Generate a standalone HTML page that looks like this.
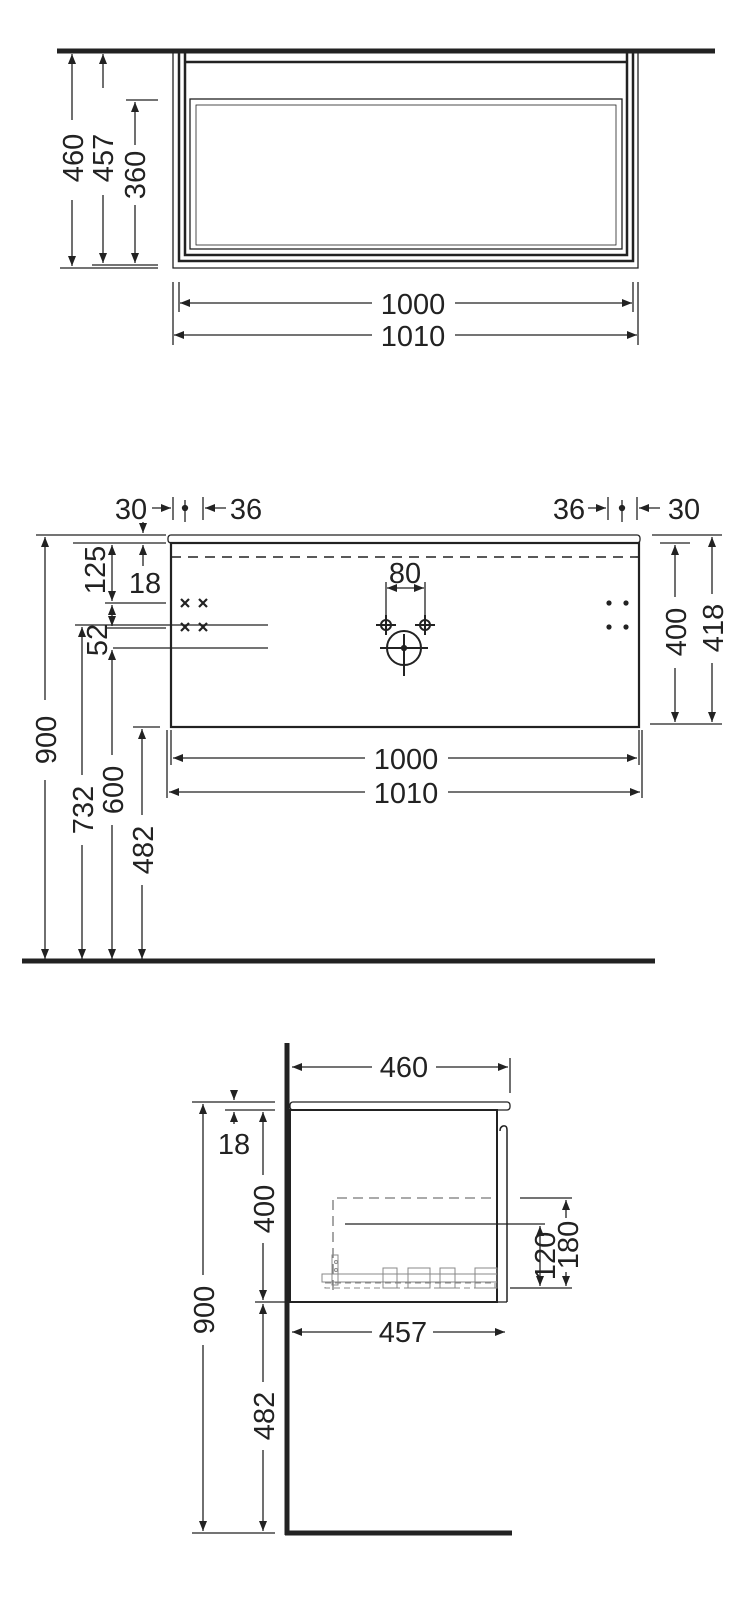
<!DOCTYPE html>
<html><head><meta charset="utf-8"><style>
html,body{margin:0;padding:0;background:#fff;}
svg{display:block;}
text{font-family:"Liberation Sans",sans-serif;font-size:29px;fill:#222;}
</style></head><body>
<svg width="754" height="1600" viewBox="0 0 754 1600" xmlns="http://www.w3.org/2000/svg">
<defs>
<marker id="a" viewBox="0 0 10 10" refX="10" refY="5" markerWidth="10" markerHeight="10" markerUnits="userSpaceOnUse" orient="auto-start-reverse"><path d="M0,1 L10,5 L0,9 z" fill="#222"/></marker>
</defs>
<g stroke="#222" fill="none" stroke-width="1.3">
<!-- TOP VIEW -->
<line x1="57" y1="51" x2="715" y2="51" stroke-width="5"/>
<polyline points="173,52 173,268 638,268 638,52"/>
<polyline points="179,52 179,261 633,261 633,52" stroke-width="2.5"/>
<polyline points="185,52 185,255 627,255 627,52" stroke-width="2.5"/>
<line x1="185" y1="62" x2="627" y2="62" stroke-width="2.5"/>
<rect x="190" y="99" width="432" height="150"/>
<rect x="196" y="105" width="420" height="140" stroke-width="0.8"/>
<line x1="60" y1="268" x2="158" y2="268"/>
<line x1="92" y1="265" x2="158" y2="265"/>
<line x1="126" y1="100" x2="158" y2="100"/>
<line x1="72" y1="54" x2="72" y2="120" marker-start="url(#a)"/><line x1="72" y1="200" x2="72" y2="266" marker-end="url(#a)"/>
<line x1="103" y1="54" x2="103" y2="88" marker-start="url(#a)"/><line x1="103" y1="195" x2="103" y2="263" marker-end="url(#a)"/>
<line x1="135" y1="102" x2="135" y2="145" marker-start="url(#a)"/><line x1="135" y1="205" x2="135" y2="263" marker-end="url(#a)"/>
<line x1="173" y1="282" x2="173" y2="345"/><line x1="179" y1="282" x2="179" y2="312"/>
<line x1="633" y1="282" x2="633" y2="312"/><line x1="638" y1="282" x2="638" y2="345"/>
<line x1="180" y1="303" x2="372" y2="303" marker-start="url(#a)"/><line x1="455" y1="303" x2="632" y2="303" marker-end="url(#a)"/>
<line x1="174" y1="335" x2="372" y2="335" marker-start="url(#a)"/><line x1="455" y1="335" x2="637" y2="335" marker-end="url(#a)"/>

<!-- FRONT VIEW -->
<rect x="168" y="535" width="472" height="8" rx="3"/>
<rect x="171" y="543" width="468" height="184" stroke-width="2.2"/>
<line x1="171" y1="557" x2="639" y2="557" stroke-dasharray="10,7" stroke-width="1.6"/>
<line x1="22" y1="961" x2="655" y2="961" stroke-width="5"/>
<line x1="36" y1="535" x2="166" y2="535"/>
<line x1="73" y1="543" x2="166" y2="543"/>
<line x1="105" y1="603" x2="166" y2="603"/>
<line x1="75" y1="625" x2="268" y2="625"/>
<line x1="105" y1="628" x2="166" y2="628"/>
<line x1="113" y1="648" x2="268" y2="648"/>
<line x1="133" y1="727" x2="160" y2="727"/>
<line x1="45" y1="537" x2="45" y2="700" marker-start="url(#a)"/><line x1="45" y1="780" x2="45" y2="959" marker-end="url(#a)"/>
<line x1="82" y1="627" x2="82" y2="775" marker-start="url(#a)"/><line x1="82" y1="845" x2="82" y2="959" marker-end="url(#a)"/>
<line x1="112" y1="650" x2="112" y2="755" marker-start="url(#a)"/><line x1="112" y1="825" x2="112" y2="959" marker-end="url(#a)"/>
<line x1="142" y1="729" x2="142" y2="815" marker-start="url(#a)"/><line x1="142" y1="885" x2="142" y2="959" marker-end="url(#a)"/>
<line x1="112" y1="545" x2="112" y2="601" marker-start="url(#a)" marker-end="url(#a)"/>
<line x1="112" y1="605" x2="112" y2="626" marker-start="url(#a)" marker-end="url(#a)"/>
<line x1="143" y1="522" x2="143" y2="533" marker-end="url(#a)"/>
<line x1="143" y1="566" x2="143" y2="545" marker-end="url(#a)"/>
<!-- top small dims -->
<line x1="173" y1="497" x2="173" y2="520"/><line x1="185" y1="500" x2="185" y2="522"/><line x1="203" y1="497" x2="203" y2="520"/>
<circle cx="185" cy="508" r="2.5" fill="#222"/>
<line x1="152" y1="508" x2="171" y2="508" marker-end="url(#a)"/>
<line x1="226" y1="508" x2="205" y2="508" marker-end="url(#a)"/>
<line x1="608" y1="497" x2="608" y2="520"/><line x1="622" y1="500" x2="622" y2="522"/><line x1="637" y1="497" x2="637" y2="520"/>
<circle cx="622" cy="508" r="2.5" fill="#222"/>
<line x1="588" y1="508" x2="606" y2="508" marker-end="url(#a)"/>
<line x1="660" y1="508" x2="639" y2="508" marker-end="url(#a)"/>
<!-- right dims -->
<line x1="652" y1="535" x2="722" y2="535"/>
<line x1="660" y1="543" x2="690" y2="543"/>
<line x1="650" y1="724" x2="722" y2="724"/>
<line x1="675" y1="545" x2="675" y2="597" marker-start="url(#a)"/><line x1="675" y1="668" x2="675" y2="722" marker-end="url(#a)"/>
<line x1="712" y1="537" x2="712" y2="594" marker-start="url(#a)"/><line x1="712" y1="663" x2="712" y2="722" marker-end="url(#a)"/>
<!-- 80 -->
<line x1="386" y1="582" x2="386" y2="615"/><line x1="425" y1="582" x2="425" y2="615"/>
<line x1="387" y1="588" x2="424" y2="588" marker-start="url(#a)" marker-end="url(#a)"/>
<circle cx="386" cy="625" r="5" stroke-width="2"/><line x1="376" y1="625" x2="396" y2="625" stroke-width="2"/><line x1="386" y1="615" x2="386" y2="635" stroke-width="2"/>
<circle cx="425" cy="625" r="5" stroke-width="2"/><line x1="415" y1="625" x2="435" y2="625" stroke-width="2"/><line x1="425" y1="615" x2="425" y2="635" stroke-width="2"/>
<circle cx="404" cy="648" r="17" stroke-width="2"/>
<line x1="380" y1="648" x2="428" y2="648" stroke-width="2"/><line x1="404" y1="634" x2="404" y2="676" stroke-width="2"/>
<circle cx="404" cy="648" r="2.5" fill="#222"/>
<g stroke-width="2.2">
<path d="M181,599l8,8M189,599l-8,8M199,599l8,8M207,599l-8,8M181,623l8,8M189,623l-8,8M199,623l8,8M207,623l-8,8"/>
</g>
<g fill="#222" stroke="none"><circle cx="609" cy="603" r="2.6"/><circle cx="626" cy="603" r="2.6"/><circle cx="609" cy="627" r="2.6"/><circle cx="626" cy="627" r="2.6"/></g>
<line x1="171" y1="730" x2="171" y2="765"/><line x1="167" y1="730" x2="167" y2="798"/>
<line x1="639" y1="730" x2="639" y2="765"/><line x1="642" y1="730" x2="642" y2="798"/>
<line x1="173" y1="758" x2="365" y2="758" marker-start="url(#a)"/><line x1="448" y1="758" x2="637" y2="758" marker-end="url(#a)"/>
<line x1="169" y1="792" x2="365" y2="792" marker-start="url(#a)"/><line x1="448" y1="792" x2="640" y2="792" marker-end="url(#a)"/>

<!-- SIDE VIEW -->
<line x1="287" y1="1043" x2="287" y2="1535" stroke-width="5"/>
<line x1="285" y1="1533" x2="512" y2="1533" stroke-width="5"/>
<rect x="290" y="1102" width="220" height="8" rx="3"/>
<rect x="290" y="1110" width="207" height="192" stroke-width="2"/>
<path d="M497,1110 V1302 M507,1302 V1130 q0,-5 -4,-4 q-3,1 -3,5" stroke-width="1.5"/>
<line x1="497" y1="1302" x2="507" y2="1302"/>
<line x1="510" y1="1058" x2="510" y2="1093"/>
<line x1="292" y1="1067" x2="372" y2="1067" marker-start="url(#a)"/><line x1="436" y1="1067" x2="508" y2="1067" marker-end="url(#a)"/>
<line x1="292" y1="1332" x2="372" y2="1332" marker-start="url(#a)"/><line x1="433" y1="1332" x2="505" y2="1332" marker-end="url(#a)"/>
<line x1="192" y1="1102" x2="275" y2="1102"/>
<line x1="225" y1="1110" x2="275" y2="1110"/>
<line x1="255" y1="1302" x2="285" y2="1302"/>
<line x1="192" y1="1533" x2="275" y2="1533"/>
<line x1="203" y1="1104" x2="203" y2="1275" marker-start="url(#a)"/><line x1="203" y1="1345" x2="203" y2="1531" marker-end="url(#a)"/>
<line x1="263" y1="1112" x2="263" y2="1175" marker-start="url(#a)"/><line x1="263" y1="1243" x2="263" y2="1300" marker-end="url(#a)"/>
<line x1="263" y1="1304" x2="263" y2="1382" marker-start="url(#a)"/><line x1="263" y1="1450" x2="263" y2="1531" marker-end="url(#a)"/>
<line x1="234" y1="1090" x2="234" y2="1100" marker-end="url(#a)"/>
<line x1="234" y1="1124" x2="234" y2="1112" marker-end="url(#a)"/>
<path d="M333,1290 V1198 H497" stroke-dasharray="10,6" stroke="#777"/>
<line x1="345" y1="1224" x2="545" y2="1224"/>
<line x1="520" y1="1198" x2="572" y2="1198"/>
<line x1="510" y1="1288" x2="572" y2="1288"/>
<line x1="540" y1="1226" x2="540" y2="1286" marker-start="url(#a)" marker-end="url(#a)"/>
<line x1="566" y1="1200" x2="566" y2="1218" marker-start="url(#a)"/><line x1="566" y1="1272" x2="566" y2="1286" marker-end="url(#a)"/>
<g stroke="#888" stroke-width="1">
<rect x="332" y="1255" width="6" height="30"/>
<rect x="322" y="1274" width="175" height="8"/>
<rect x="325" y="1283" width="170" height="5" stroke-dasharray="6,4"/>
<circle cx="336" cy="1262" r="1.5"/><circle cx="336" cy="1270" r="1.5"/>
<rect x="383" y="1268" width="14" height="20"/><rect x="408" y="1268" width="22" height="20"/><rect x="440" y="1268" width="15" height="20"/><rect x="475" y="1268" width="22" height="20"/>
</g>
</g>
<g>
<text transform="translate(83,158) rotate(-90)" text-anchor="middle">460</text>
<text transform="translate(113,158) rotate(-90)" text-anchor="middle">457</text>
<text transform="translate(145,175) rotate(-90)" text-anchor="middle">360</text>
<text x="413" y="314" text-anchor="middle">1000</text>
<text x="413" y="346" text-anchor="middle">1010</text>
<text x="131" y="519" text-anchor="middle">30</text>
<text x="246" y="519" text-anchor="middle">36</text>
<text x="569" y="519" text-anchor="middle">36</text>
<text x="684" y="519" text-anchor="middle">30</text>
<text transform="translate(105,570) rotate(-90)" text-anchor="middle">125</text>
<text x="145" y="593" text-anchor="middle">18</text>
<text transform="translate(107,640) rotate(-90)" text-anchor="middle">52</text>
<text x="405" y="583" text-anchor="middle">80</text>
<text transform="translate(686,632) rotate(-90)" text-anchor="middle">400</text>
<text transform="translate(723,628) rotate(-90)" text-anchor="middle">418</text>
<text x="406" y="769" text-anchor="middle">1000</text>
<text x="406" y="803" text-anchor="middle">1010</text>
<text transform="translate(56,740) rotate(-90)" text-anchor="middle">900</text>
<text transform="translate(93,810) rotate(-90)" text-anchor="middle">732</text>
<text transform="translate(123,790) rotate(-90)" text-anchor="middle">600</text>
<text transform="translate(153,850) rotate(-90)" text-anchor="middle">482</text>
<text x="404" y="1077" text-anchor="middle">460</text>
<text x="403" y="1342" text-anchor="middle">457</text>
<text x="234" y="1154" text-anchor="middle">18</text>
<text transform="translate(214,1310) rotate(-90)" text-anchor="middle">900</text>
<text transform="translate(274,1209) rotate(-90)" text-anchor="middle">400</text>
<text transform="translate(274,1416) rotate(-90)" text-anchor="middle">482</text>
<text transform="translate(555,1256) rotate(-90)" text-anchor="middle">120</text>
<text transform="translate(578,1245) rotate(-90)" text-anchor="middle">180</text>
</g>
</svg>
</body></html>
